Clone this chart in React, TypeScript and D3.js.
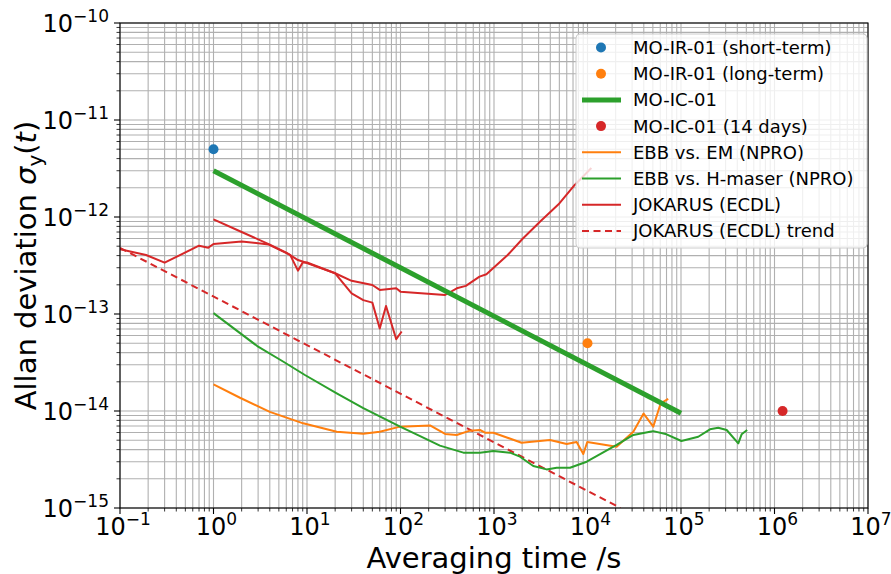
import * as d3 from 'd3';
import React from 'react';

// [tau (s), sigma_y]
const moIrShort: [number, number][] = [[1, 5.0e-12]];
const moIrLong: [number, number][] = [[1e4, 5.0e-14]];
const moIc01: [number, number][] = [[1, 3.0e-12], [1e5, 9.49e-15]];
const moIc14d: [number, number][] = [[1.22e6, 1.0e-14]];

const ebbEm: [number, number][] = [
  [1, 1.88e-14], [1.92, 1.37e-14], [4, 9.8e-15], [9.1, 7.46e-15], [20.8, 6.12e-15],
  [40, 5.83e-15], [60, 6.12e-15], [99, 6.9e-15], [207, 7.1e-15], [300, 5.8e-15],
  [399, 5.66e-15], [553, 6.27e-15], [708, 6.37e-15], [802, 5.97e-15], [984, 5.97e-15],
  [1972, 4.71e-15], [3970, 5.03e-15], [5990, 4.57e-15], [7650, 4.79e-15], [9020, 3.6e-15],
  [9940, 4.79e-15], [2.05e4, 4.28e-15], [3.09e4, 6.12e-15], [3.98e4, 9.4e-15],
  [5.05e4, 6.9e-15], [6.07e4, 1.2e-14], [7.3e4, 1.33e-14],
];

const ebbHm: [number, number][] = [
  [1, 1.02e-13], [3, 4.6e-14], [5.6, 3.22e-14], [9.5, 2.35e-14], [20.8, 1.52e-14],
  [40, 1.07e-14], [99, 6.9e-15], [162, 5.5e-15], [264, 4.4e-15], [470, 3.72e-15],
  [708, 3.72e-15], [984, 3.87e-15], [1483, 3.72e-15], [1897, 3.38e-15], [2630, 2.71e-15],
  [3656, 2.5e-15], [4680, 2.6e-15], [6500, 2.6e-15], [9800, 3.0e-15], [2.05e4, 4.47e-15],
  [3.09e4, 5.66e-15], [4.66e4, 6.12e-15], [5.05e4, 6.2e-15], [7.0e4, 5.75e-15],
  [1.01e5, 4.91e-15], [1.53e5, 5.43e-15], [2.04e5, 6.47e-15], [2.5e5, 6.72e-15],
  [3.08e5, 6.37e-15], [4.1e5, 4.64e-15], [4.45e5, 5.75e-15], [5.1e5, 6.37e-15],
];

const jokarusA: [number, number][] = [
  [0.1, 4.65e-13], [0.19, 4.06e-13], [0.3, 3.38e-13], [0.7, 5.06e-13], [0.88, 4.83e-13],
  [1, 5.27e-13], [2, 5.6e-13], [3.9, 5.2e-13], [6.6, 4.07e-13], [8, 2.8e-13],
  [9, 3.4e-13], [10, 3.4e-13], [20, 2.63e-13], [30, 2.2e-13], [50, 1.99e-13],
  [60, 1.77e-13], [90, 1.84e-13], [100, 1.7e-13], [300, 1.57e-13], [400, 1.84e-13],
  [500, 1.95e-13], [700, 2.43e-13], [830, 2.57e-13], [1400, 4.06e-13], [2000, 5.9e-13],
  [3100, 8.95e-13], [5000, 1.38e-12], [7300, 2.14e-12], [1.1e4, 3.2e-12],
];

const jokarusB: [number, number][] = [
  [1, 9.46e-13], [2, 7.0e-13], [4, 5.2e-13], [6, 4.3e-13], [8, 3.6e-13], [10, 3.35e-13],
  [20, 2.63e-13], [30, 1.63e-13], [40, 1.39e-13], [50, 1.31e-13], [60, 7.1e-14],
  [70, 1.21e-13], [90, 5.5e-14], [103, 6.6e-14],
];

const jokarusTrend: [number, number][] = [[0.1, 4.8e-13], [2.25e4, 1.0e-15]];

const xDomain = [1e-1, 1e7];
const yDomain = [1e-15, 1e-10];

const legendItems = [
  { label: 'MO-IR-01 (short-term)', kind: 'dot', color: '#1f77b4' },
  { label: 'MO-IR-01 (long-term)', kind: 'dot', color: '#ff7f0e' },
  { label: 'MO-IC-01', kind: 'thick', color: '#2ca02c' },
  { label: 'MO-IC-01 (14 days)', kind: 'dot', color: '#d62728' },
  { label: 'EBB vs. EM (NPRO)', kind: 'line', color: '#ff7f0e' },
  { label: 'EBB vs. H-maser (NPRO)', kind: 'line', color: '#2ca02c' },
  { label: 'JOKARUS (ECDL)', kind: 'line', color: '#d62728' },
  { label: 'JOKARUS (ECDL) trend', kind: 'dash', color: '#d62728' },
];

const W = 891;
const H = 574;
const m = { left: 120, right: 23, top: 23, bottom: 66 };
const FONT = 'DejaVu Sans, sans-serif';

function PowLabel({ x, y, exp, anchor }: { x: number; y: number; exp: number; anchor: string }) {
  const e = exp < 0 ? '\u2212' + Math.abs(exp) : String(exp);
  return (
    <text x={x} y={y} textAnchor={anchor} fontFamily={FONT} fontSize={24} fill="#000">
      <tspan>10</tspan>
      <tspan dy={-10} fontSize={17}>{e}</tspan>
    </text>
  );
}

export default function App() {
  const pw = W - m.left - m.right;
  const ph = H - m.top - m.bottom;
  const x = d3.scaleLog().domain(xDomain).range([m.left, m.left + pw]);
  const y = d3.scaleLog().domain(yDomain).range([m.top + ph, m.top]);

  const line = d3.line<[number, number]>().x(d => x(d[0])).y(d => y(d[1]));

  const xt = x.ticks().filter(v => v >= xDomain[0] * 0.999 && v <= xDomain[1] * 1.001);
  const yt = y.ticks().filter(v => v >= yDomain[0] * 0.999 && v <= yDomain[1] * 1.001);
  const isMajor = (v: number) => Math.abs(Math.log10(v) - Math.round(Math.log10(v))) < 1e-6;

  const grid = '#b0b0b0';
  const lg = { x: 576, y: 34, w: 291, h: 214, row: 26.2 };

  return (
    <svg width={W} height={H} style={{ position: 'absolute', left: 0, top: 0, background: '#fff' }}>
      <defs>
        <clipPath id="plot">
          <rect x={m.left} y={m.top} width={pw} height={ph} />
        </clipPath>
      </defs>
      {/* grid */}
      <g>
        {xt.map((v, i) => (
          <line key={'gx' + i} x1={x(v)} x2={x(v)} y1={m.top} y2={m.top + ph} stroke={grid} strokeWidth={1.1} />
        ))}
        {yt.map((v, i) => (
          <line key={'gy' + i} y1={y(v)} y2={y(v)} x1={m.left} x2={m.left + pw} stroke={grid} strokeWidth={1.1} />
        ))}
      </g>
      {/* data */}
      <g clipPath="url(#plot)" fill="none" strokeLinejoin="round">
        <path d={line(jokarusTrend) || ''} stroke="#d62728" strokeWidth={2} strokeDasharray="7,4.5" />
        <path d={line(ebbEm) || ''} stroke="#ff7f0e" strokeWidth={2} />
        <path d={line(ebbHm) || ''} stroke="#2ca02c" strokeWidth={2} />
        <path d={line(jokarusA) || ''} stroke="#d62728" strokeWidth={2} />
        <path d={line(jokarusB) || ''} stroke="#d62728" strokeWidth={2} />
        <path d={line(moIc01) || ''} stroke="#2ca02c" strokeWidth={5} strokeLinecap="butt" />
        {moIrShort.map((d, i) => <circle key={'a' + i} cx={x(d[0])} cy={y(d[1])} r={5} fill="#1f77b4" />)}
        {moIrLong.map((d, i) => <circle key={'b' + i} cx={x(d[0])} cy={y(d[1])} r={5} fill="#ff7f0e" />)}
        {moIc14d.map((d, i) => <circle key={'c' + i} cx={x(d[0])} cy={y(d[1])} r={5} fill="#d62728" />)}
      </g>
      {/* axes frame */}
      <rect x={m.left} y={m.top} width={pw} height={ph} fill="none" stroke="#000" strokeWidth={1.1} />
      {/* ticks */}
      {xt.map((v, i) => (
        <line key={'tx' + i} x1={x(v)} x2={x(v)} y1={m.top + ph} y2={m.top + ph + (isMajor(v) ? 6 : 3.5)} stroke="#000" strokeWidth={isMajor(v) ? 1.1 : 0.8} />
      ))}
      {yt.map((v, i) => (
        <line key={'ty' + i} y1={y(v)} y2={y(v)} x1={m.left} x2={m.left - (isMajor(v) ? 6 : 3.5)} stroke="#000" strokeWidth={isMajor(v) ? 1.1 : 0.8} />
      ))}
      {xt.filter(isMajor).map((v, i) => (
        <PowLabel key={'lx' + i} x={x(v) + 3} y={m.top + ph + 27} exp={Math.round(Math.log10(v))} anchor="middle" />
      ))}
      {yt.filter(isMajor).map((v, i) => (
        <PowLabel key={'ly' + i} x={m.left - 11} y={y(v) + 9} exp={Math.round(Math.log10(v))} anchor="end" />
      ))}
      {/* axis labels */}
      <text x={m.left + pw / 2} y={H - 6} textAnchor="middle" fontFamily={FONT} fontSize={29}>Averaging time /s</text>
      <text transform={`translate(36,${m.top + ph / 2}) rotate(-90)`} textAnchor="middle" fontFamily={FONT} fontSize={29}>
        <tspan>Allan deviation </tspan>
        <tspan fontStyle="italic">σ</tspan>
        <tspan fontSize={20} dy={6}>y</tspan>
        <tspan dy={-6}>(</tspan>
        <tspan fontStyle="italic">t</tspan>
        <tspan>)</tspan>
      </text>
      {/* legend */}
      <g>
        <rect x={lg.x} y={lg.y} width={lg.w} height={lg.h} rx={4} fill="#fff" fillOpacity={0.8} stroke="#cccccc" strokeWidth={1} />
        {legendItems.map((it, i) => {
          const cy = lg.y + 13.5 + i * lg.row;
          return (
            <g key={'lg' + i}>
              {it.kind === 'dot' && <circle cx={601} cy={cy} r={5} fill={it.color} />}
              {it.kind === 'thick' && <line x1={582} x2={621} y1={cy} y2={cy} stroke={it.color} strokeWidth={5} />}
              {it.kind === 'line' && <line x1={582} x2={621} y1={cy} y2={cy} stroke={it.color} strokeWidth={2} />}
              {it.kind === 'dash' && <line x1={582} x2={621} y1={cy} y2={cy} stroke={it.color} strokeWidth={2} strokeDasharray="7,4.5" />}
              <text x={633} y={cy + 6.5} fontFamily={FONT} fontSize={18} fill="#000">{it.label}</text>
            </g>
          );
        })}
      </g>
    </svg>
  );
}
